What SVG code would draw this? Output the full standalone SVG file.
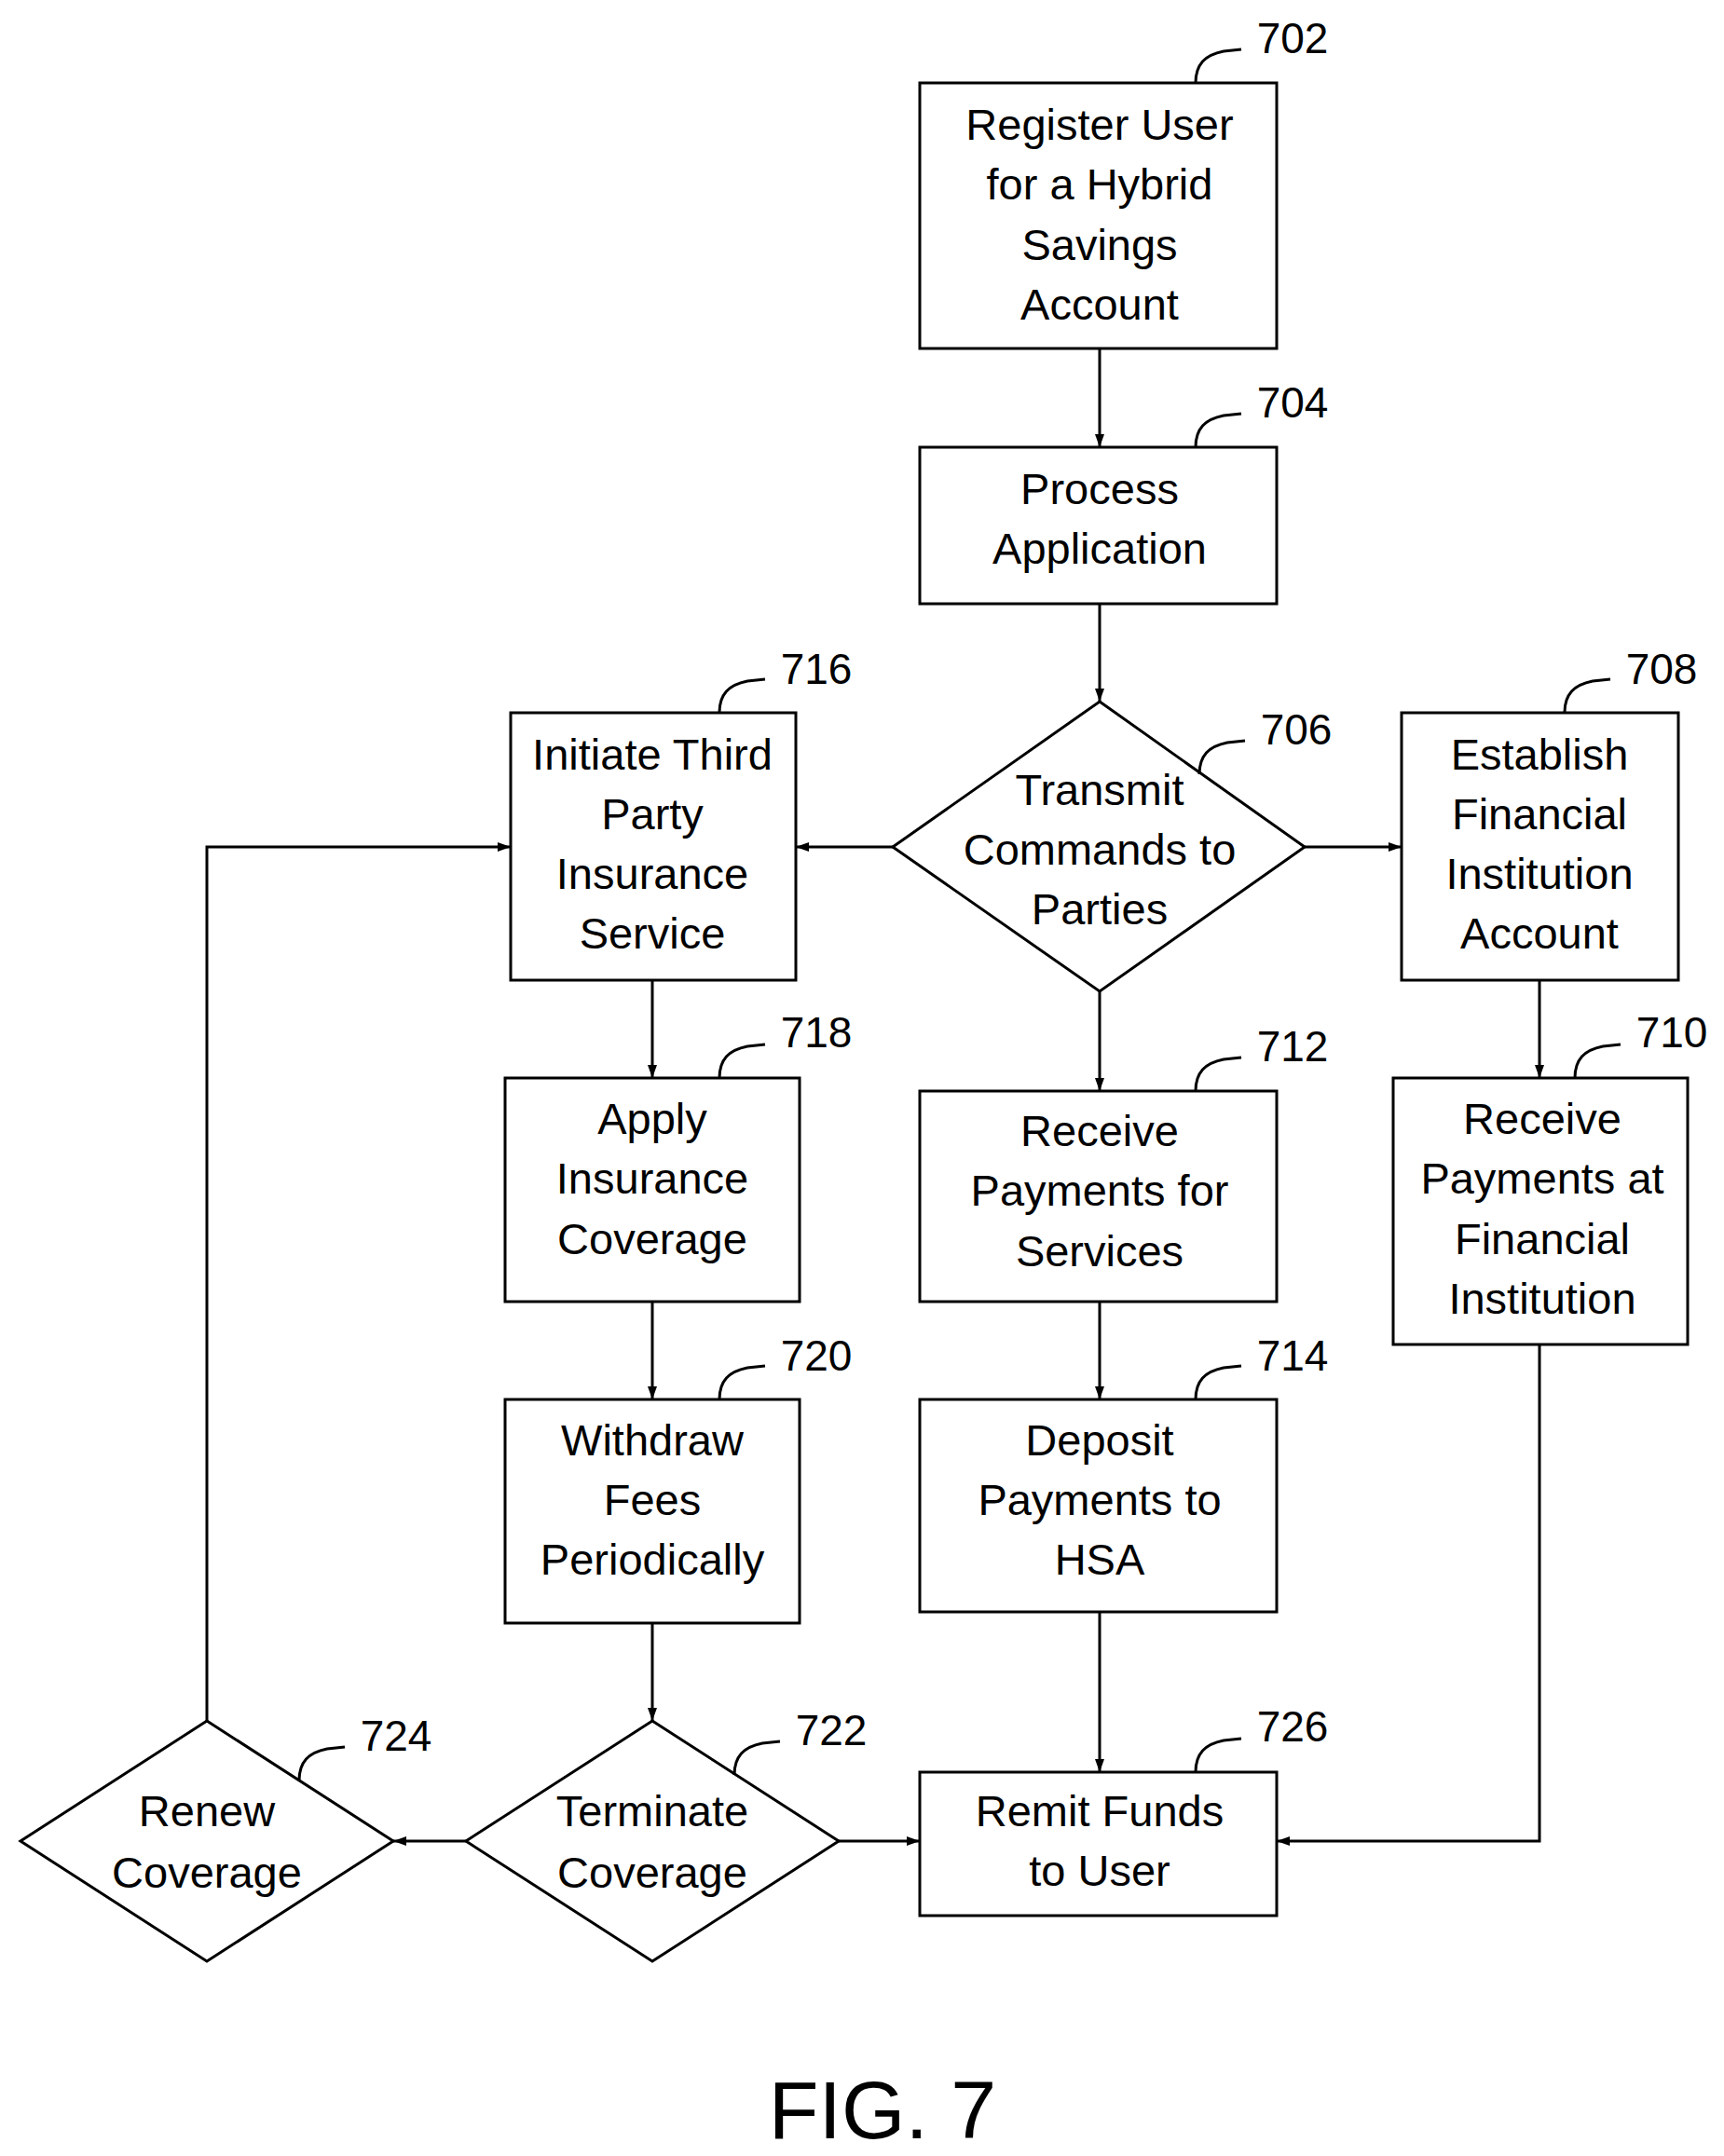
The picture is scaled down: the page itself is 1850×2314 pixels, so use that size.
<svg xmlns="http://www.w3.org/2000/svg" width="1850" height="2314" viewBox="0 0 1850 2314">
<style>
.b{fill:#fff;stroke:#000;stroke-width:3}
.t{font-family:"Liberation Sans",Arial,sans-serif;font-size:47px;text-anchor:middle;dominant-baseline:central}
.n{font-family:"Liberation Sans",Arial,sans-serif;font-size:46px;text-anchor:middle;dominant-baseline:central}
.l{fill:none;stroke:#000;stroke-width:3}
.c{fill:none;stroke:#000;stroke-width:3;marker-end:url(#a)}
</style>
<defs><marker id="a" markerWidth="14" markerHeight="10" refX="14" refY="5" orient="auto" markerUnits="userSpaceOnUse"><path d="M0,0L14,5L0,10z"/></marker></defs>
<rect width="1850" height="2314" fill="#fff"/>
<g id="connectors">
<path class="c" d="M1180,374V480"/>
<path class="c" d="M1180,648V753"/>
<path class="c" d="M958,909H854"/>
<path class="c" d="M1400,909H1504"/>
<path class="c" d="M1180,1064V1171"/>
<path class="c" d="M700,1052V1157"/>
<path class="c" d="M1652,1052V1157"/>
<path class="c" d="M700,1397V1502"/>
<path class="c" d="M1180,1397V1502"/>
<path class="c" d="M700,1742V1847"/>
<path class="c" d="M1180,1730V1902"/>
<path class="c" d="M1652,1443V1976H1370"/>
<path class="c" d="M900,1976H987"/>
<path class="c" d="M500,1976H422"/>
<path class="c" d="M222,1847V909H548"/>
</g>
<g id="n702"><rect class="b" x="987" y="89" width="383" height="285"/>
<text class="t" x="1180" y="133">Register User</text><text class="t" x="1180" y="197">for a Hybrid</text><text class="t" x="1180" y="262">Savings</text><text class="t" x="1180" y="326">Account</text>
<text class="n" x="1387" y="41">702</text><path class="l" d="M1283,89c0,-20 10,-30 30,-34l19,-2"/></g>
<g id="n704"><rect class="b" x="987" y="480" width="383" height="168"/>
<text class="t" x="1180" y="524">Process</text><text class="t" x="1180" y="588">Application</text>
<text class="n" x="1387" y="432">704</text><path class="l" d="M1283,480c0,-20 10,-30 30,-34l19,-2"/></g>
<g id="n706"><polygon class="b" points="1180,753 1400,909 1180,1064 958,909"/>
<text class="t" x="1180" y="847">Transmit</text><text class="t" x="1180" y="911">Commands to</text><text class="t" x="1180" y="975">Parties</text>
<text class="n" x="1391" y="783">706</text><path class="l" d="M1287,831c0,-20 10,-30 30,-34l19,-2"/></g>
<g id="n716"><rect class="b" x="548" y="765" width="306" height="287"/>
<text class="t" x="700" y="809">Initiate Third</text><text class="t" x="700" y="873">Party</text><text class="t" x="700" y="937">Insurance</text><text class="t" x="700" y="1001">Service</text>
<text class="n" x="876" y="718">716</text><path class="l" d="M772,765c0,-20 10,-30 30,-34l19,-2"/></g>
<g id="n708"><rect class="b" x="1504" y="765" width="297" height="287"/>
<text class="t" x="1652" y="809">Establish</text><text class="t" x="1652" y="873">Financial</text><text class="t" x="1652" y="937">Institution</text><text class="t" x="1652" y="1001">Account</text>
<text class="n" x="1783" y="718">708</text><path class="l" d="M1679,765c0,-20 10,-30 30,-34l19,-2"/></g>
<g id="n718"><rect class="b" x="542" y="1157" width="316" height="240"/>
<text class="t" x="700" y="1200">Apply</text><text class="t" x="700" y="1264">Insurance</text><text class="t" x="700" y="1329">Coverage</text>
<text class="n" x="876" y="1108">718</text><path class="l" d="M772,1157c0,-20 10,-30 30,-34l19,-2"/></g>
<g id="n712"><rect class="b" x="987" y="1171" width="383" height="226"/>
<text class="t" x="1180" y="1213">Receive</text><text class="t" x="1180" y="1277">Payments for</text><text class="t" x="1180" y="1342">Services</text>
<text class="n" x="1387" y="1123">712</text><path class="l" d="M1283,1171c0,-20 10,-30 30,-34l19,-2"/></g>
<g id="n710"><rect class="b" x="1495" y="1157" width="316" height="286"/>
<text class="t" x="1655" y="1200">Receive</text><text class="t" x="1655" y="1264">Payments at</text><text class="t" x="1655" y="1329">Financial</text><text class="t" x="1655" y="1393">Institution</text>
<text class="n" x="1794" y="1108">710</text><path class="l" d="M1690,1157c0,-20 10,-30 30,-34l19,-2"/></g>
<g id="n720"><rect class="b" x="542" y="1502" width="316" height="240"/>
<text class="t" x="700" y="1545">Withdraw</text><text class="t" x="700" y="1609">Fees</text><text class="t" x="700" y="1673">Periodically</text>
<text class="n" x="876" y="1455">720</text><path class="l" d="M772,1502c0,-20 10,-30 30,-34l19,-2"/></g>
<g id="n714"><rect class="b" x="987" y="1502" width="383" height="228"/>
<text class="t" x="1180" y="1545">Deposit</text><text class="t" x="1180" y="1609">Payments to</text><text class="t" x="1180" y="1673">HSA</text>
<text class="n" x="1387" y="1455">714</text><path class="l" d="M1283,1502c0,-20 10,-30 30,-34l19,-2"/></g>
<g id="n726"><rect class="b" x="987" y="1902" width="383" height="154"/>
<text class="t" x="1180" y="1943">Remit Funds</text><text class="t" x="1180" y="2007">to User</text>
<text class="n" x="1387" y="1853">726</text><path class="l" d="M1283,1902c0,-20 10,-30 30,-34l19,-2"/></g>
<g id="n722"><polygon class="b" points="700,1847 900,1976 700,2105 500,1976"/>
<text class="t" x="700" y="1943">Terminate</text><text class="t" x="700" y="2009">Coverage</text>
<text class="n" x="892" y="1857">722</text><path class="l" d="M788,1905c0,-20 10,-30 30,-34l19,-2"/></g>
<g id="n724"><polygon class="b" points="222,1847 422,1976 222,2105 22,1976"/>
<text class="t" x="222" y="1943">Renew</text><text class="t" x="222" y="2009">Coverage</text>
<text class="n" x="425" y="1863">724</text><path class="l" d="M321,1911c0,-20 10,-30 30,-34l19,-2"/></g>
<text class="t" x="947" y="2264" style="font-size:88px">FIG. 7</text>
</svg>
